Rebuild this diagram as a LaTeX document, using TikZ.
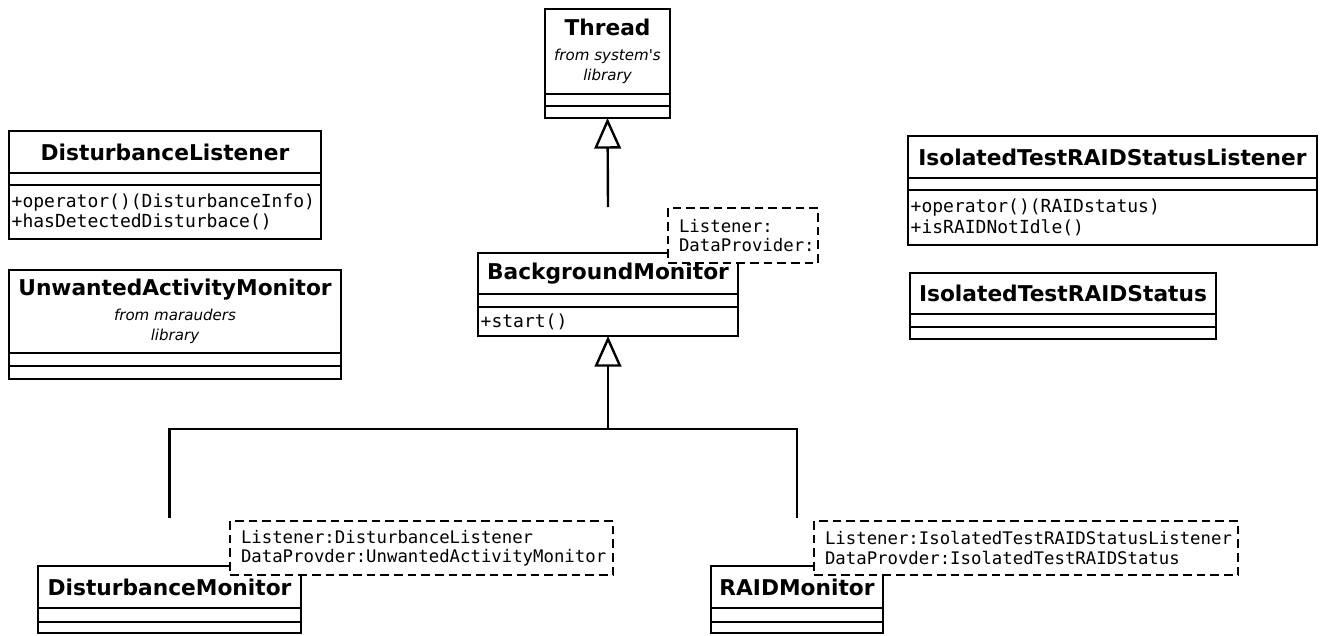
\documentclass[tikz,border=0pt]{standalone}
\usepackage{fontspec}
\setmainfont{DejaVu Sans}
\setmonofont{DejaVu Sans Mono}
\usetikzlibrary{positioning, calc, arrows.meta}

\newcommand{\clsname}{\fontsize{16.3pt}{19pt}\selectfont\bfseries}
\newcommand{\clsfrom}{\fontsize{11.3pt}{15pt}\selectfont\mdseries\itshape}
\newcommand{\clsmember}{\fontsize{13.5pt}{15.5pt}\selectfont\ttfamily}
\newcommand{\clsnote}{\fontsize{13pt}{14.5pt}\selectfont\ttfamily}

\begin{document}
\begin{tikzpicture}[x=0.75pt, y=-0.75pt,
  part/.style={draw, line width=1.8pt, outer sep=0pt, inner sep=2pt},
  title/.style={part, align=center, font=\clsname},
  member/.style={part, align=left, font=\clsmember},
  note/.style={draw, fill=white, line width=1.8pt, dash pattern=on 6.5pt off 3.75pt, outer sep=0pt, inner xsep=8.25pt, inner ysep=0pt, align=left, font=\clsnote, anchor=north west},
  gen/.style={line width=1.8pt, -{Triangle[open, length=23pt, width=20pt]}},
  link/.style={line width=1.8pt}]

\useasboundingbox (0,0) rectangle (1326,635);

% Thread
\node (T) [title, anchor=north west, minimum width=93.75pt, minimum height=63.75pt] at (545,9) {Thread\\{\clsfrom from system\textquotesingle s}\\[-4pt]{\clsfrom library}};
\node (T-a) [part, minimum width=93.75pt, minimum height=9pt, below=0pt of T] {};
\node (T-o) [part, minimum width=93.75pt, minimum height=9pt, below=0pt of T-a] {};

% DisturbanceListener
\node (DL) [title, anchor=north west, minimum width=234pt, minimum height=31.5pt] at (9,131) {DisturbanceListener};
\node (DL-a) [part, minimum width=234pt, minimum height=9pt, below=0pt of DL] {};
\node (DL-o) [member, text width=230pt, minimum height=40.5pt, below=0pt of DL-a] {+operator()(DisturbanceInfo)\\+hasDetectedDisturbace()};

% UnwantedActivityMonitor
\node (UAM) [title, anchor=north west, minimum width=249pt, minimum height=62.25pt] at (9,270) {UnwantedActivityMonitor\\{\clsfrom from marauders}\\[-4pt]{\clsfrom library}};
\node (UAM-a) [part, minimum width=249pt, minimum height=9.75pt, below=0pt of UAM] {};
\node (UAM-o) [part, minimum width=249pt, minimum height=9.75pt, below=0pt of UAM-a] {};

% BackgroundMonitor
\node (BM) [title, anchor=north west, minimum width=195pt, minimum height=30.75pt] at (478,253) {BackgroundMonitor};
\node (BM-a) [part, minimum width=195pt, minimum height=9.75pt, below=0pt of BM] {};
\node (BM-o) [member, text width=191pt, minimum height=21.75pt, below=0pt of BM-a] {+start()};
\node (BM-n) [note, text width=96pt, minimum height=41.25pt] at (668,208) {Listener:\\DataProvider:};

% IsolatedTestRAIDStatusListener
\node (ITL) [title, anchor=north west, minimum width=306.75pt, minimum height=31.5pt] at (908,136) {IsolatedTestRAIDStatusListener};
\node (ITL-a) [part, minimum width=306.75pt, minimum height=9pt, below=0pt of ITL] {};
\node (ITL-o) [member, text width=302.75pt, minimum height=41.25pt, below=0pt of ITL-a] {+operator()(RAIDstatus)\\+isRAIDNotIdle()};

% IsolatedTestRAIDStatus
\node (ITS) [title, anchor=north west, minimum width=229.5pt, minimum height=30.75pt] at (910,273) {IsolatedTestRAIDStatus};
\node (ITS-a) [part, minimum width=229.5pt, minimum height=9.75pt, below=0pt of ITS] {};
\node (ITS-o) [part, minimum width=229.5pt, minimum height=9pt, below=0pt of ITS-a] {};

% DisturbanceMonitor
\node (DM) [title, anchor=north west, minimum width=197.25pt, minimum height=31.5pt] at (38,566) {DisturbanceMonitor};
\node (DM-a) [part, minimum width=197.25pt, minimum height=10.5pt, below=0pt of DM] {};
\node (DM-o) [part, minimum width=197.25pt, minimum height=8.25pt, below=0pt of DM-a] {};
\node (DM-n) [note, text width=270.75pt, minimum height=40.5pt] at (230,521) {Listener:DisturbanceListener\\DataProvder:UnwantedActivityMonitor};

% RAIDMonitor
\node (RM) [title, anchor=north west, minimum width=129pt, minimum height=31.5pt] at (711,566) {RAIDMonitor};
\node (RM-a) [part, minimum width=129pt, minimum height=10.5pt, below=0pt of RM] {};
\node (RM-o) [part, minimum width=129pt, minimum height=8.25pt, below=0pt of RM-a] {};
\node (RM-n) [note, text width=301.5pt, minimum height=40.5pt] at (814,521) {Listener:IsolatedTestRAIDStatusListener\\DataProvder:IsolatedTestRAIDStatus};

% inheritance
\coordinate (BMtop) at ($(BM.north)+(0,-46)$);
\draw[gen] (BMtop) -- (T-o.south);

\coordinate (DMtop) at ($(DM.north)+(0,-48)$);
\coordinate (RMtop) at ($(RM.north)+(0,-48)$);
\coordinate (J) at ($(BM-o.south)+(0,93)$);
\draw[link] (DMtop) |- (J) -| (RMtop);
\draw[gen] (J) -- (BM-o.south);

\end{tikzpicture}
\end{document}
